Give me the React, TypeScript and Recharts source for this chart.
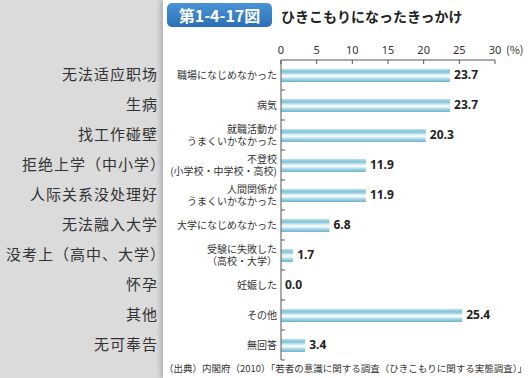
import { Bar, ComposedChart, LabelList, Line, XAxis, YAxis } from "recharts";

// ひきこもりになったきっかけ (%)
const jpLabels = [
  "職場になじめなかった",
  "病気",
  "就職活動が\nうまくいかなかった",
  "不登校\n(小学校・中学校・高校)",
  "人間関係が\nうまくいかなかった",
  "大学になじめなかった",
  "受験に失敗した\n（高校・大学）",
  "妊娠した",
  "その他",
  "無回答",
];
const zhLabels = [
  "无法适应职场",
  "生病",
  "找工作碰壁",
  "拒绝上学（中小学）",
  "人际关系没处理好",
  "无法融入大学",
  "没考上（高中、大学）",
  "怀孕",
  "其他",
  "无可奉告",
];
const values = [23.7, 23.7, 20.3, 11.9, 11.9, 6.8, 1.7, 0.0, 25.4, 3.4];
const xTicks = [0, 5, 10, 15, 20, 25, 30];

const rows = jpLabels.map((jp, i) => ({ jp, zh: zhLabels[i], value: values[i] }));

const jpFont = '"Noto Sans CJK JP", "Noto Sans", sans-serif';
const zhFont = '"Noto Sans CJK SC", sans-serif';
const axisColor = "#555";

const XTick = (props: any) => {
  const { x, y, payload } = props;
  return (
    <g>
      <text x={x} y={y} textAnchor="middle" fontSize={11} fill="#333" fontFamily='"Noto Sans", sans-serif'>
        {payload.value}
      </text>
      {payload.value === 30 && (
        <text x={x + 11} y={y} fontSize={11} fill="#333" fontFamily={jpFont}>
          (%)
        </text>
      )}
    </g>
  );
};

const YTick = (props: any) => {
  const { x, y, payload, index, height, visibleTicksCount } = props;
  const lines = String(payload.value).split("\n");
  const lineH = 12;
  const start = y - ((lines.length - 1) * lineH) / 2;
  const half = payload.offset || height / (2 * visibleTicksCount);
  const axisX = x + 4;
  const zh = zhLabels[index];
  // a trailing full-width paren only inks the left half of its cell
  const zhX = zh.endsWith("）") ? 166 : 158;
  return (
    <g>
      {/* row boundary tick, pointing into the plot */}
      <line x1={axisX} x2={axisX + 4} y1={y + half} y2={y + half} stroke={axisColor} />
      {lines.map((ln, i) => (
        <text
          key={i}
          x={x}
          y={start + i * lineH}
          dy="0.35em"
          textAnchor="end"
          fontSize={10}
          fill="#333"
          fontFamily={jpFont}
        >
          {ln}
        </text>
      ))}
      <text
        x={zhX}
        y={y}
        dy="0.35em"
        textAnchor="end"
        fontSize={15}
        letterSpacing={1}
        fill="#333"
        fontFamily={zhFont}
      >
        {zh}
      </text>
    </g>
  );
};

export default function App() {
  return (
    <div
      style={{
        position: "absolute",
        left: 0,
        top: 0,
        width: 531,
        height: 378,
        background: "#dbdbdb",
        overflow: "hidden",
      }}
    >
      <div
        style={{
          position: "absolute",
          left: 163,
          top: 0,
          width: 368,
          height: 378,
          background: "#fff",
          boxShadow: "-3px 0 4px rgba(0,0,0,0.18)",
        }}
      />

      {/* title */}
      <div
        style={{
          position: "absolute",
          left: 167,
          top: 3,
          width: 105,
          height: 24,
          borderRadius: 5,
          background: "linear-gradient(#4a93d6, #2b70b6)",
          color: "#fff",
          fontFamily: jpFont,
          fontWeight: 700,
          fontSize: 16,
          lineHeight: "24px",
          textAlign: "center",
        }}
      >
        第1-4-17図
      </div>
      <div
        style={{
          position: "absolute",
          left: 281,
          top: 6,
          fontFamily: jpFont,
          fontSize: 14,
          fontWeight: 700,
          lineHeight: "20px",
          color: "#222",
          whiteSpace: "nowrap",
        }}
      >
        ひきこもりになったきっかけ
      </div>

      <div style={{ position: "absolute", left: 0, top: 0 }}>
        <ComposedChart
          width={531}
          height={378}
          layout="vertical"
          data={rows}
          margin={{ top: 30, right: 36, bottom: 18, left: 161 }}
        >
          <defs>
            <linearGradient id="barGrad" x1="0" y1="0" x2="0" y2="1">
              <stop offset="0%" stopColor="#bfe2ed" />
              <stop offset="22%" stopColor="#7cc2d7" />
              <stop offset="48%" stopColor="#eef8fb" />
              <stop offset="58%" stopColor="#f4fafc" />
              <stop offset="80%" stopColor="#9ed1e1" />
              <stop offset="100%" stopColor="#6cb6cd" />
            </linearGradient>
          </defs>
          <XAxis
            type="number"
            orientation="top"
            domain={[0, 30]}
            ticks={xTicks}
            interval={0}
            height={30}
            tickSize={-4}
            tickMargin={10}
            axisLine={{ stroke: axisColor }}
            tickLine={{ stroke: axisColor }}
            tick={<XTick />}
          />
          <YAxis
            type="category"
            dataKey="jp"
            width={120}
            interval={0}
            axisLine={{ stroke: axisColor }}
            tickLine={false}
            tickSize={0}
            tickMargin={4}
            tick={<YTick />}
          />
          <Bar dataKey="value" barSize={13} fill="url(#barGrad)" isAnimationActive={false} />
          {/* invisible line only carries the value labels (so 0.0 is shown too) */}
          <Line dataKey="value" stroke="none" dot={false} activeDot={false} isAnimationActive={false}>
            <LabelList
              dataKey="value"
              position="right"
              offset={4}
              formatter={(v: any) => Number(v).toFixed(1)}
              fontSize={12}
              fontWeight={700}
              fill="#222"
              fontFamily='"Noto Sans", sans-serif'
            />
          </Line>
        </ComposedChart>
      </div>

      {/* source */}
      <div
        style={{
          position: "absolute",
          left: 164,
          top: 362,
          fontFamily: jpFont,
          fontSize: 9.5,
          lineHeight: "12px",
          color: "#333",
          whiteSpace: "nowrap",
        }}
      >
        （出典）内閣府（2010）「若者の意識に関する調査（ひきこもりに関する実態調査）」
      </div>
    </div>
  );
}
